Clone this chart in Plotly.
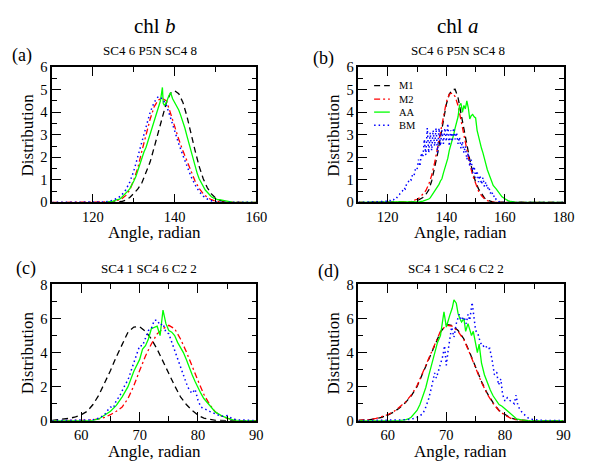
import plotly.graph_objects as go

FONT = "Liberation Serif, Times New Roman, serif"
W, H = 595, 468
# the page body adds an 8px margin around the figure; positions below are
# reference-picture pixels and are shifted back by this amount
PAGE_OFFSET = 8

# ---------------- data ----------------
# Panel (a): chl b, SC4 6 P5N SC4 8
A_M1_X = [124,125,126,127,128,129,130,131,132,133,134,135,136,137,138,139,140,141,142,143,144,145,146,147,148,149,150,151,152,153,154]
A_M1_Y = [0.0,0.01,0.02,0.04,0.1,0.22,0.4,0.6,0.88,1.3,1.8,2.45,3.1,3.83,4.45,4.85,4.95,4.82,4.45,3.83,3.0,2.3,1.6,1.05,0.65,0.38,0.2,0.1,0.04,0.01,0.0]
A_M2_X = [110,123,124,125,126,127,128,129,130,131,132,133,134,135,136,137,138,139,140,141,142,143,144,145,146,147,148,149,150,151,152,160]
A_M2_Y = [0,0,0.02,0.05,0.1,0.15,0.3,0.55,1.0,1.55,2.3,3.0,3.7,4.25,4.55,4.62,4.5,3.95,3.35,2.8,2.3,1.83,1.35,0.95,0.62,0.38,0.22,0.12,0.06,0.03,0.01,0]
A_AA_X = [123,124,125,125.5,126,126.5,127,127.5,128,128.5,129,129.5,130,130.5,131,131.5,132,132.5,133,133.5,134,134.5,135,135.5,136,136.5,137,137.2,137.5,138,138.5,139,139.5,140,140.5,141,141.5,142,142.5,143,143.5,144,144.5,145,145.5,146,146.5,147,147.5,148,148.5,149,149.5,150,150.5,151,152,153,154,160]
A_AA_Y = [0,0.02,0.06,0.1,0.12,0.14,0.22,0.3,0.4,0.5,0.6,0.75,0.95,1.15,1.45,1.7,1.95,2.25,2.45,2.75,3.1,3.3,3.6,3.95,4.25,4.5,5.1,4.4,4.3,4.45,4.7,4.88,4.6,4.45,4.3,4.1,3.85,3.6,3.3,2.95,2.6,2.25,1.95,1.6,1.3,1.05,0.88,0.72,0.55,0.45,0.35,0.25,0.2,0.15,0.12,0.12,0.08,0.04,0.01,0]
A_BM_X = [110,122,123,124,125,126,127,128,129,130,131,132,133,134,135,136,137,138,139,140,141,142,143,144,145,146,147,148,149,150,151,160]
A_BM_Y = [0,0,0.02,0.05,0.1,0.18,0.32,0.55,0.9,1.4,2.05,2.7,3.4,4.0,4.45,4.7,4.6,4.3,3.75,3.15,2.6,2.1,1.6,1.15,0.78,0.48,0.28,0.15,0.07,0.03,0.01,0]

# Panel (b): chl a, SC4 6 P5N SC4 8
B_M1_X = [110,128,129,130,131,132,133,134,135,136,137,138,139,140,141,142,143,144,145,146,147,148,149,150,151,152,153,154,155,156,180]
B_M1_Y = [0,0,0.03,0.07,0.13,0.22,0.35,0.55,0.95,1.5,2.15,2.9,3.7,4.35,4.8,5.0,5.02,4.65,3.95,3.25,2.55,1.9,1.35,0.9,0.6,0.38,0.2,0.1,0.04,0.01,0]
B_M2_X = [110,126,127,128,129,130,131,132,133,134,135,136,137,138,139,140,141,142,143,144,145,146,147,148,149,150,151,152,153,154,155,156,157,180]
B_M2_Y = [0,0,0.02,0.05,0.08,0.14,0.22,0.35,0.52,0.8,1.2,1.75,2.4,3.15,3.85,4.45,4.8,4.85,4.7,4.3,3.65,2.95,2.3,1.7,1.2,0.8,0.5,0.3,0.16,0.08,0.03,0.01,0,0]
B_AA_X = [110,130,131,132,133,134,134.5,135,135.5,136,136.5,137,137.5,138,138.5,139,139.5,140,140.5,141,141.5,142,142.5,143,143.5,144,144.5,145,145.5,146,146.5,147,147.5,148,148.5,149,149.5,150,150.5,151,151.5,152,152.5,153,153.5,154,154.5,155,155.5,156,157,158,159,160,161,162,163,164,180]
B_AA_Y = [0,0,0.03,0.06,0.1,0.15,0.2,0.3,0.35,0.45,0.55,0.65,0.8,0.95,1.05,1.3,1.5,1.75,1.95,2.3,2.5,2.7,3.0,3.3,3.5,3.8,4.3,4.4,4.0,4.3,4.15,4.5,4.2,3.7,3.85,3.9,3.8,3.75,3.2,2.9,2.6,2.4,2.2,2.0,1.7,1.45,1.25,1.05,0.95,0.75,0.6,0.42,0.25,0.16,0.08,0.04,0.02,0,0]
B_BM_X = [110,120,120.5,121,121.5,122,122.5,123,123.5,124,124.5,125,125.5,126,126.5,127,127.5,128,128.5,129,129.5,130,130.5,131,131.5,132,132.5,133,133.5,134,134.5,135,135.5,136,136.5,137,137.5,138,138.5,139,139.5,140,140.5,141,141.5,142,142.5,143,143.5,144,144.5,145,145.5,146,146.5,147,147.5,148,148.5,149,149.5,150,150.5,151,151.5,152,152.5,153,153.5,154,154.5,155,155.5,156,156.5,157,157.5,158,159,180]
B_BM_Y = [0,0.05,0.1,0.08,0.15,0.12,0.2,0.18,0.3,0.35,0.45,0.5,0.65,0.6,0.85,0.9,1.05,1.0,1.25,1.2,1.5,1.45,1.9,1.6,2.2,2.0,2.8,2.1,3.3,2.2,3.1,2.3,3.2,2.5,3.3,2.2,3.3,2.5,3.2,2.6,3.3,2.7,3.5,2.5,3.2,2.7,3.3,2.8,3.1,2.6,2.9,2.4,2.7,2.2,2.5,1.9,2.2,1.6,1.9,1.3,1.6,1.1,1.4,0.9,1.2,0.8,1.1,0.7,0.9,0.6,0.7,0.4,0.5,0.25,0.3,0.12,0.1,0.03,0,0]

# Panel (c): chl b, SC4 1 SC4 6 C2 2
C_M1_X = [55,56,57,58,59,60,61,62,63,64,65,66,67,68,69,70,71,72,73,74,75,76,77,78,79,80,81,82,83,90]
C_M1_Y = [0.02,0.05,0.08,0.14,0.22,0.35,0.55,0.95,1.5,2.2,2.95,3.75,4.45,5.2,5.5,5.52,5.25,4.8,4.2,3.45,2.75,2.05,1.4,0.95,0.6,0.32,0.15,0.06,0.01,0]
C_M2_X = [55,60,61,62,63,64,65,66,67,68,69,70,71,72,73,74,75,76,77,78,79,80,81,82,83,84,85,86,87,88,90]
C_M2_Y = [0,0,0.02,0.05,0.1,0.2,0.35,0.55,0.8,1.3,2.05,2.95,3.8,4.5,5.1,5.4,5.6,5.4,4.8,4.05,3.15,2.35,1.55,0.95,0.5,0.28,0.14,0.06,0.02,0,0]
C_AA_X = [55,62,63,64,65,66,67,68,69,70,70.5,71,71.5,72,72.5,73,73.5,74,74.5,75,75.5,76,76.5,77,77.5,78,78.5,79,79.5,80,80.5,81,82,83,84,85,86,87,90]
C_AA_Y = [0,0.02,0.1,0.3,0.55,0.9,1.4,2.0,2.9,3.6,4.2,4.4,4.8,5.4,5.5,5.55,5.0,6.5,5.7,5.3,5.2,5.0,4.6,4.3,4.0,3.6,3.1,2.7,2.3,1.9,1.6,1.3,0.9,0.5,0.3,0.15,0.05,0,0]
C_BM_X = [55,61,62,63,64,64.5,65,65.5,66,66.5,67,67.5,68,68.5,69,69.5,70,70.5,71,71.5,72,72.5,73,73.5,74,74.5,75,75.5,76,76.5,77,77.5,78,78.5,79,79.5,80,80.5,81,82,83,84,85,86,87,88,90]
C_BM_Y = [0,0.02,0.05,0.15,0.35,0.6,0.8,0.75,1.2,1.4,1.8,2.1,2.4,2.9,3.3,3.9,4.4,4.4,4.8,5.3,5.4,5.9,5.9,5.6,5.7,5.2,5.1,4.6,4.2,3.6,3.1,2.7,2.2,1.8,1.6,1.85,1.2,0.8,0.7,0.55,0.4,0.25,0.3,0.1,0.05,0.02,0]

# Panel (d): chl a, SC4 1 SC4 6 C2 2
D_M1_X = [55,56,57,58,59,60,61,62,63,64,65,66,67,68,69,70,71,72,73,74,75,76,77,78,79,80,81,82,83,84,90]
D_M1_Y = [0.02,0.03,0.06,0.12,0.2,0.33,0.5,0.75,1.05,1.45,2.0,2.8,3.6,4.5,5.2,5.65,5.6,5.3,4.8,4.0,3.1,2.3,1.6,1.05,0.6,0.35,0.15,0.06,0.02,0,0]
D_M2_X = [55,56,57,58,59,60,61,62,63,64,65,66,67,68,69,70,71,72,73,74,75,76,77,78,79,80,81,82,83,84,90]
D_M2_Y = [0.02,0.03,0.07,0.13,0.22,0.35,0.52,0.78,1.08,1.5,2.05,2.85,3.65,4.55,5.25,5.6,5.55,5.25,4.75,3.95,3.05,2.25,1.55,1.0,0.58,0.32,0.14,0.05,0.02,0,0]
D_AA_X = [55,62,63,63.5,64,64.5,65,65.5,66,66.5,67,67.5,68,68.5,69,69.3,69.6,70,70.3,70.6,71,71.3,71.7,72,72.3,72.6,73,73.3,73.7,74,74.3,74.6,75,75.3,75.6,76,76.5,77,77.5,78,78.5,79,79.5,80,80.5,81,81.5,82,83,84,90]
D_AA_Y = [0,0,0.05,0.1,0.2,0.4,0.6,0.95,1.4,1.95,2.65,3.3,4.1,4.6,5.0,5.7,6.4,5.5,5.9,6.2,6.6,7.1,6.9,6.3,6.0,5.8,6.0,5.25,5.7,5.3,5.0,5.25,4.5,4.0,4.5,3.4,2.7,2.2,1.8,1.45,1.2,0.95,0.85,0.7,0.55,0.35,0.2,0.1,0.03,0,0]
D_BM_X = [55,62,63,64,64.5,65,65.5,66,66.5,67,67.5,68,68.3,68.6,69,69.4,69.7,70,70.3,70.6,70.9,71.3,71.7,72.2,72.6,73,73.4,73.7,74,74.4,74.7,75,75.4,75.8,76.2,76.7,77,77.4,77.8,78.2,78.6,78.9,79.3,79.6,80,80.4,80.8,81.2,81.6,81.9,82.2,82.5,83,83.5,84,84.5,85,86,90]
D_BM_Y = [0,0.02,0.05,0.08,0.12,0.2,0.3,0.4,0.8,1.3,2.0,2.8,2.5,2.9,3.4,3.8,4.4,3.25,4.1,4.8,5.5,4.9,5.7,6.25,5.9,6.1,5.7,6.25,5.9,6.95,6.2,5.3,5.1,4.6,4.35,4.45,4.2,4.25,3.6,2.7,2.85,2.1,2.45,1.55,1.15,1.35,1.2,1.1,1.0,1.5,0.9,0.7,0.45,0.3,0.15,0.08,0.05,0.02,0]

SERIES = ["M1", "M2", "AA", "BM"]
COL_TITLES = ["chl <i>b</i>", "chl <i>a</i>"]
SUBTITLES = ["SC4 6 P5N SC4 8", "SC4 6 P5N SC4 8", "SC4 1 SC4 6 C2 2", "SC4 1 SC4 6 C2 2"]
PANEL_LABELS = ["(a)", "(b)", "(c)", "(d)"]
X_TITLE = "Angle, radian"
Y_TITLE = "Distribution"

# ---------------- styles ----------------
STYLE = {
    "M1": dict(color="black", width=1.3, dash="6px,4px"),
    "M2": dict(color="#ff0000", width=1.3, dash="6px,3px,2px,3px"),
    "AA": dict(color="#00ff00", width=1.3, dash="solid"),
    "BM": dict(color="#0000ff", width=1.5, dash="1.5px,3px"),
}

def px(x):
    return (x - PAGE_OFFSET) / W

def py(y):
    return 1 - (y - PAGE_OFFSET) / H

# plot-area boxes in reference pixels: (left, right, top, bottom)
BOX = [(53, 261, 61, 201), (365, 574, 61, 201), (53, 261, 286, 427), (365, 574, 286, 427)]

fig = go.Figure()

panel_data = [
    [(A_M1_X, A_M1_Y), (A_M2_X, A_M2_Y), (A_AA_X, A_AA_Y), (A_BM_X, A_BM_Y)],
    [(B_M1_X, B_M1_Y), (B_M2_X, B_M2_Y), (B_AA_X, B_AA_Y), (B_BM_X, B_BM_Y)],
    [(C_M1_X, C_M1_Y), (C_M2_X, C_M2_Y), (C_AA_X, C_AA_Y), (C_BM_X, C_BM_Y)],
    [(D_M1_X, D_M1_Y), (D_M2_X, D_M2_Y), (D_AA_X, D_AA_Y), (D_BM_X, D_BM_Y)],
]

for i, data in enumerate(panel_data):
    xa = "x" if i == 0 else f"x{i+1}"
    ya = "y" if i == 0 else f"y{i+1}"
    for name, (xs, ys) in zip(SERIES, data):
        fig.add_trace(go.Scatter(x=xs, y=ys, mode="lines", name=name,
                                 line=STYLE[name], xaxis=xa, yaxis=ya,
                                 showlegend=False))

XR = [[110, 160], [110, 180], [55, 90], [55, 90]]
XT0 = [120, 120, 60, 60]
XDT = [20, 20, 10, 10]
XMIN = [10, 10, 5, 5]
YR = [[0, 6], [0, 6], [0, 8], [0, 8]]
YDT = [1, 1, 2, 2]
YMIN = [0.5, 0.5, 1, 1]

tickfont = dict(family=FONT, size=14.5, color="black")
layout = dict(width=W, height=H, margin=dict(l=0, r=0, t=0, b=0),
              paper_bgcolor="white", plot_bgcolor="white", showlegend=False)

for i, (l, r, t, b) in enumerate(BOX):
    xk = "xaxis" if i == 0 else f"xaxis{i+1}"
    yk = "yaxis" if i == 0 else f"yaxis{i+1}"
    xa = "x" if i == 0 else f"x{i+1}"
    ya = "y" if i == 0 else f"y{i+1}"
    common = dict(ticks="inside", ticklen=9, tickwidth=1.3, tickcolor="black",
                  mirror="allticks", showline=True, linecolor="black", linewidth=1.6,
                  showgrid=False, zeroline=False, tickfont=tickfont, tickmode="linear")
    layout[xk] = dict(domain=[px(l), px(r)], anchor=ya, range=XR[i], tick0=XT0[i], dtick=XDT[i],
                      minor=dict(dtick=XMIN[i], tick0=XT0[i], ticks="inside", ticklen=5,
                                 tickwidth=1.3, tickcolor="black", showgrid=False),
                      **common)
    layout[yk] = dict(domain=[py(b), py(t)], anchor=xa, range=YR[i], tick0=0, dtick=YDT[i],
                      minor=dict(dtick=YMIN[i], tick0=0, ticks="inside", ticklen=5,
                                 tickwidth=1.3, tickcolor="black", showgrid=False),
                      **common)

fig.update_layout(**layout)

ann = []
def text(x, y, s, size, anchor="center", angle=0):
    ann.append(dict(x=px(x), y=py(y), xref="paper", yref="paper", text=s, showarrow=False,
                    xanchor=anchor, yanchor="middle", textangle=angle,
                    font=dict(family=FONT, size=size, color="black")))

# column titles
text(157, 18, COL_TITLES[0], 21)
text(466, 18, COL_TITLES[1], 21)
# subtitles and panel labels
SUB_POS = [(153, 43.5), (466, 43.5), (151.5, 269), (464, 269)]
LAB_POS = [(22.5, 49), (329, 52), (26, 269.5), (334.5, 273)]
for i in range(4):
    text(*SUB_POS[i], SUBTITLES[i], 13)
    text(*LAB_POS[i], PANEL_LABELS[i], 18)
# axis titles
for i, (l, r, t, b) in enumerate(BOX):
    text((l + r) / 2, b + 31.5, X_TITLE, 17)
    text(l - 25, (t + b) / 2, Y_TITLE, 17, angle=-90)

# legend in panel (b)
shapes = []
LEG_Y = [80, 94, 107.5, 121]
for name, yy in zip(SERIES, LEG_Y):
    st = STYLE[name]
    shapes.append(dict(type="line", xref="paper", yref="paper", x0=px(381), x1=px(397),
                       y0=py(yy), y1=py(yy), line=dict(color=st["color"], width=st["width"], dash=st["dash"])))
    text(404, yy, name, 10.5, anchor="left")

fig.update_layout(annotations=ann, shapes=shapes)
fig.write_html("out.html")
